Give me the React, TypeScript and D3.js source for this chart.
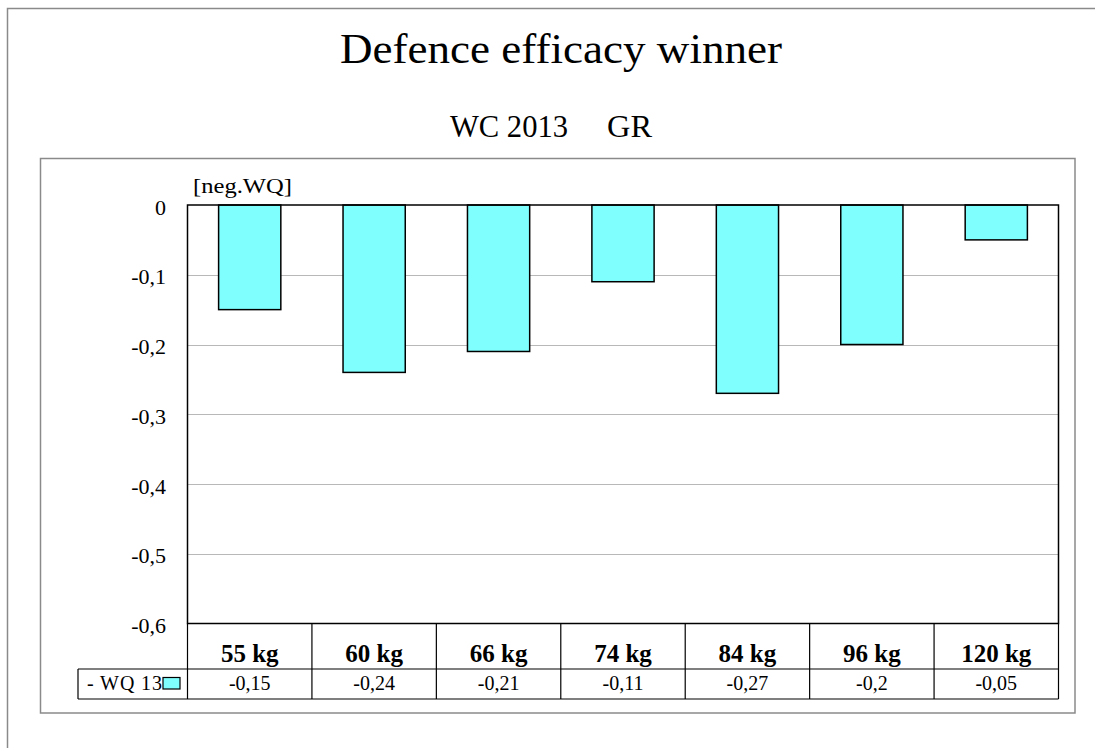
import React from "react";
import * as d3 from "d3";

const categories: string[] = ["55 kg", "60 kg", "66 kg", "74 kg", "84 kg", "96 kg", "120 kg"];
const values: number[] = [-0.15, -0.24, -0.21, -0.11, -0.27, -0.2, -0.05];
const valueLabels: string[] = ["-0,15", "-0,24", "-0,21", "-0,11", "-0,27", "-0,2", "-0,05"];
const yTicks: number[] = [0, -0.1, -0.2, -0.3, -0.4, -0.5, -0.6];
const seriesName = "- WQ 13";
const titleText = "Defence efficacy winner";
const subtitleA = "WC 2013";
const subtitleB = "GR";
const unitLabel = "[neg.WQ]";

const W = 1095;
const H = 748;
const plotL = 187.5;
const plotR = 1058.5;
const plotT = 205;
const plotB = 623.5;
const rowMid = 669;
const rowBot = 699;
const legendL = 78;
const FONT = "'Liberation Serif', 'Times New Roman', serif";
const BAR = "#80FFFF";

export default function App() {
  const y = d3.scaleLinear().domain([-0.6, 0]).range([plotB, plotT]);
  const xBar = d3.scaleBand<string>().domain(categories).range([plotL, plotR]).paddingInner(0.5).paddingOuter(0.25);
  const xCell = d3.scaleBand<string>().domain(categories).range([plotL, plotR]).padding(0);
  const fmt = (v: number) => (v === 0 ? "0" : d3.format(".1f")(v).replace(".", ",").replace("\u2212", "-"));

  return (
    <svg width={W} height={H} style={{ position: "absolute", left: 0, top: 0, display: "block", background: "#fff" }} fontFamily={FONT}>
      <rect x={0} y={0} width={W} height={H} fill="#fff" />
      {/* outer frame */}
      <path d={`M7.5,${H + 5} V8.5 H${W + 5}`} fill="none" stroke="#8a8a8a" strokeWidth={1.5} />
      {/* inner frame */}
      <rect x={40.5} y={158.5} width={1034.5} height={554.5} fill="none" stroke="#8a8a8a" strokeWidth={1.5} />

      {/* titles */}
      <text x={561} y={63} textAnchor="middle" fontSize={43} fill="#000" textLength={442} lengthAdjust="spacingAndGlyphs">{titleText}</text>
      <text x={450} y={137} fontSize={31} fontFamily={FONT} fill="#000" textLength={118} lengthAdjust="spacingAndGlyphs">{subtitleA}</text>
      <text x={607} y={137} fontSize={31} fontFamily={FONT} fill="#000" textLength={45} lengthAdjust="spacingAndGlyphs">{subtitleB}</text>

      {/* gridlines */}
      {yTicks.filter((t) => t !== 0 && t !== -0.6).map((t) => (
        <line key={"g" + t} x1={plotL} x2={plotR} y1={Math.round(y(t)) + 0.5} y2={Math.round(y(t)) + 0.5} stroke="#707070" strokeWidth={1} strokeDasharray="1,1" />
      ))}

      {/* y tick labels */}
      {yTicks.map((t) => (
        <text key={"t" + t} x={166} y={y(t) + 2} textAnchor="end" dominantBaseline="central" fontSize={22} fill="#000">{fmt(t)}</text>
      ))}
      <text x={193} y={193} fontSize={22} fill="#000" textLength={99} lengthAdjust="spacingAndGlyphs">{unitLabel}</text>

      {/* bars */}
      {categories.map((c, i) => (
        <g key={"b" + c}>
          <rect x={xBar(c)!} y={y(0)} width={xBar.bandwidth()} height={y(values[i]) - y(0)} fill={BAR} stroke="#000" strokeWidth={1.5} />
        </g>
      ))}

      {/* plot border */}
      <rect x={plotL} y={plotT} width={plotR - plotL} height={plotB - plotT} fill="none" stroke="#000" strokeWidth={1.5} />

      {/* data table */}
      {categories.map((c, i) => {
        const x0 = xCell(c)!;
        const cx = x0 + xCell.bandwidth() / 2;
        return (
          <g key={"c" + c}>
            <line x1={x0} x2={x0} y1={plotB} y2={rowBot} stroke="#000" strokeWidth={1.2} />
            <text x={cx} y={662} textAnchor="middle" fontSize={25} fontWeight="bold" fill="#000">{c}</text>
            <text x={cx} y={689.5} textAnchor="middle" fontSize={20} fill="#000">{valueLabels[i]}</text>
          </g>
        );
      })}
      <line x1={plotR} x2={plotR} y1={plotB} y2={rowBot} stroke="#000" strokeWidth={1.2} />
      <line x1={legendL} x2={plotR} y1={rowMid} y2={rowMid} stroke="#000" strokeWidth={1.2} />
      <line x1={legendL} x2={plotR} y1={rowBot} y2={rowBot} stroke="#000" strokeWidth={1.2} />
      <line x1={legendL} x2={legendL} y1={rowMid} y2={rowBot} stroke="#000" strokeWidth={1.2} />
      <text x={87} y={689.5} fontSize={20} fill="#000" textLength={75} lengthAdjust="spacing">{seriesName}</text>
      <rect x={163} y={677.5} width={17} height={11.5} fill={BAR} stroke="#000" strokeWidth={1.2} />
    </svg>
  );
}
